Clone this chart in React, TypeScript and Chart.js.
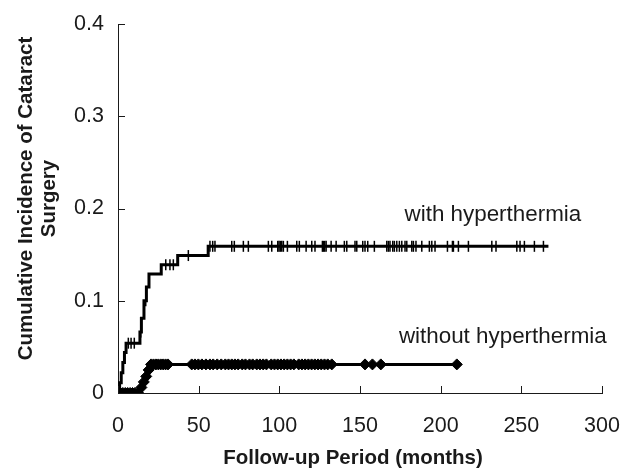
import React, { useEffect, useRef } from "react";
import { Chart, registerables } from "chart.js";

Chart.register(...registerables);

// ---- data (months, cumulative incidence) ----
const withEventTimes = [0, 1, 2, 3, 4, 5, 13.6, 14.5, 16.1, 17.6, 19.2, 26.8, 37, 55.9, 266.8];
const withEventValues = [0, 0.011, 0.022, 0.033, 0.044, 0.054, 0.066, 0.081, 0.1, 0.115, 0.129, 0.139, 0.149, 0.159, 0.159];
const withCensorTimes = [
  6.4, 8.1, 10.1, 14.1, 17.2, 29.6, 32.2, 34.3, 43.6,
  57.0, 58.7, 60.1, 70.5, 72.1, 77.7, 80.8, 93.2, 95.3, 99.0, 99.8, 100.6, 101.5, 102.5,
  105.0, 110.8, 112.4, 116.6, 120.1, 122.1, 126.7, 127.3, 128.1, 129.0, 132.1, 135.2,
  140.3, 141.8, 146.9, 148.0, 151.7, 153.1, 154.8, 158.9, 166.6, 167.6, 168.6, 170.3,
  171.3, 172.8, 174.4, 175.9, 177.9, 179.0, 182.1, 183.1, 184.7, 188.3, 193.0, 194.5,
  196.5, 204.2, 207.3, 207.9, 211.0, 217.2, 231.7, 234.3, 247.2, 249.2, 251.9, 258.1, 263.7,
];

const withoutEventTimes = [0, 14.5, 16, 17.5, 19, 20.5];
const withoutEventValues = [0, 0.006, 0.012, 0.018, 0.025, 0.031];
const withoutCensorTimes = [
  1.5, 3, 4.5, 6, 7.5, 9, 10.5, 12.5,
  22, 23.5, 25, 26.5, 28, 29.5, 31,
  45.7, 47.7, 49.8, 52, 54.5, 57, 59, 61.5, 64, 66.5, 68.5, 70.5, 72.5, 74.5, 77, 79,
  81.5, 83.5, 86, 88, 90, 92, 95, 97, 99, 101, 103, 105, 107, 109, 112, 114, 116, 118,
  120, 122, 124, 126, 128, 130, 132.5, 153.1, 157.7, 162.9, 210,
];

const xTicks = [0, 50, 100, 150, 200, 250, 300];
const yTicks = [0, 0.1, 0.2, 0.3, 0.4];
const seriesLabels = ["with hyperthermia", "without hyperthermia"];
const labelAnchors = [
  { x: 177.6, y: 0.193 },
  { x: 174.1, y: 0.061 },
];
const xTitle = "Follow-up Period (months)";
const yTitle = ["Cumulative Incidence of Cataract", "Surgery"];

const FONT = "Arial, 'Liberation Sans', Helvetica, sans-serif";
const INK = "#1a1a1a";

function levelAt(times: number[], values: number[], t: number) {
  let v = 0;
  for (let i = 0; i < times.length; i++) if (times[i] <= t) v = values[i];
  return v;
}

function buildPoints(eTimes: number[], eValues: number[], cTimes: number[]) {
  const pts: { x: number; y: number; c: boolean }[] = [];
  eTimes.forEach((t, i) => pts.push({ x: t, y: eValues[i], c: false }));
  cTimes.forEach((t) => pts.push({ x: t, y: levelAt(eTimes, eValues, t), c: true }));
  pts.sort((a, b) => a.x - b.x);
  return pts;
}

export default function App() {
  const ref = useRef<HTMLCanvasElement | null>(null);

  useEffect(() => {
    document.body.style.margin = "0";
    const canvas = ref.current;
    if (!canvas) return;

    const withPts = buildPoints(withEventTimes, withEventValues, withCensorTimes);
    const withoutPts = buildPoints(withoutEventTimes, withoutEventValues, withoutCensorTimes);

    const decorations = {
      id: "decorations",
      afterDatasetsDraw(chart: any) {
        const { ctx, scales } = chart;
        const xs = scales.x;
        const ys = scales.y;
        ctx.save();
        ctx.strokeStyle = INK;
        ctx.lineWidth = 1;
        ctx.beginPath();
        yTicks.forEach((v) => {
          const py = Math.round(ys.getPixelForValue(v)) + 0.5;
          ctx.moveTo(xs.left, py);
          ctx.lineTo(xs.left + 7, py);
        });
        xTicks.forEach((v) => {
          const px = Math.round(xs.getPixelForValue(v)) + 0.5;
          ctx.moveTo(px, ys.bottom);
          ctx.lineTo(px, ys.bottom - 7);
        });
        ctx.stroke();
        ctx.fillStyle = INK;
        ctx.font = `22.4px ${FONT}`;
        ctx.textBaseline = "middle";
        ctx.textAlign = "left";
        seriesLabels.forEach((s, i) => {
          ctx.fillText(s, xs.getPixelForValue(labelAnchors[i].x), ys.getPixelForValue(labelAnchors[i].y));
        });
        ctx.restore();
      },
      afterDraw(chart: any) {
        const { ctx, chartArea } = chart;
        ctx.save();
        ctx.fillStyle = INK;
        ctx.font = `bold 20.5px ${FONT}`;
        ctx.textBaseline = "middle";
        ctx.textAlign = "center";
        ctx.fillText(xTitle, chartArea.left + 235, 458);
        ctx.translate(0, chartArea.top + 174.5);
        ctx.rotate(-Math.PI / 2);
        ctx.fillText(yTitle[0], 0, 26);
        ctx.fillText(yTitle[1], 0, 49);
        ctx.restore();
      },
    };

    const chart = new Chart(canvas, {
      type: "line",
      data: {
        datasets: [
          {
            label: seriesLabels[0],
            data: withPts.map((p) => ({ x: p.x, y: p.y })),
            borderColor: "#000",
            borderWidth: 3,
            stepped: true,
            pointStyle: "line",
            rotation: 90,
            pointRadius: withPts.map((p) => (p.c ? 5.5 : 0)),
            pointBorderWidth: 1.5,
            pointBorderColor: "#000",
            pointBackgroundColor: "#000",
          },
          {
            label: seriesLabels[1],
            data: withoutPts.map((p) => ({ x: p.x, y: p.y })),
            borderColor: "#000",
            borderWidth: 3,
            stepped: true,
            pointStyle: "rectRot",
            pointRadius: 5.5,
            pointBorderWidth: 1,
            pointBorderColor: "#000",
            pointBackgroundColor: "#000",
          },
        ],
      },
      options: {
        responsive: false,
        animation: false,
        layout: { padding: { top: 24, right: 31, left: 0, bottom: 0 } },
        plugins: { legend: { display: false }, tooltip: { enabled: false } },
        scales: {
          x: {
            type: "linear",
            min: 0,
            max: 300,
            afterFit: (s: any) => {
              s.height = 77;
              s.paddingLeft = 0;
              s.paddingRight = 0;
            },
            afterBuildTicks: (s: any) => {
              s.ticks = xTicks.map((v) => ({ value: v }));
            },
            grid: { display: true, drawOnChartArea: false, drawTicks: false },
            border: { display: true, color: INK, width: 1 },
            ticks: { padding: 20, color: INK, font: { family: FONT, size: 21.5 } },
            title: { display: false },
          },
          y: {
            type: "linear",
            min: 0,
            max: 0.4,
            afterFit: (s: any) => {
              s.width = 118;
              s.paddingTop = 0;
              s.paddingBottom = 0;
            },
            afterBuildTicks: (s: any) => {
              s.ticks = yTicks.map((v) => ({ value: v }));
            },
            grid: { display: true, drawOnChartArea: false, drawTicks: false },
            border: { display: true, color: INK, width: 1 },
            ticks: {
              padding: 14,
              color: INK,
              font: { family: FONT, size: 21.5 },
              callback: (v: any) => (Number(v) === 0 ? "0" : Number(v).toFixed(1)),
            },
            title: { display: false },
          },
        },
      },
      plugins: [decorations],
    });
    return () => chart.destroy();
  }, []);

  return (
    <div style={{ width: 633, height: 470 }}>
      <canvas ref={ref} width={633} height={470} />
    </div>
  );
}
